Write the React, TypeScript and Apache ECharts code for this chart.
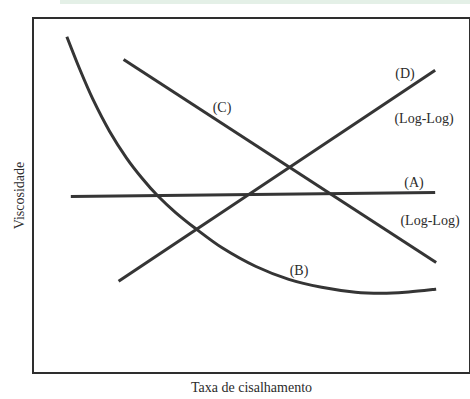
import React, { useEffect, useRef } from "react";
import * as echarts from "echarts";

// Values (arbitrary units, x: shear rate, y: viscosity)
const curveA: [number, number][] = [[38, 179], [404, 183]];
const curveB: [number, number][] = [
  [34, 341], [47, 308], [60, 278], [77, 245], [94, 218], [110, 197], [125, 180],
  [143, 163], [164, 146], [190, 127], [224, 108], [257, 95], [290, 87],
  [324, 82], [350, 81], [374, 82], [405, 85],
];
const curveC: [number, number][] = [[91, 318], [405, 112]];
const curveD: [number, number][] = [[86, 93], [404, 307]];

const xName = "Taxa de cisalhamento";
const yName = "Viscosidade";

const labels: { text: string; x: number; y: number }[] = [
  { text: "(C)", x: 222, y: 107 },
  { text: "(D)", x: 405, y: 73 },
  { text: "(Log-Log)", x: 424, y: 118 },
  { text: "(A)", x: 414, y: 182 },
  { text: "(Log-Log)", x: 430, y: 220 },
  { text: "(B)", x: 299, y: 270 },
];

const FONT = "Liberation Serif, Times New Roman, serif";
const INK = "#353535";

export default function App() {
  const ref = useRef<HTMLDivElement>(null);
  useEffect(() => {
    if (!ref.current) return;
    const chart = echarts.init(ref.current, null, { renderer: "svg" });
    const mkSeries = (name: string, data: [number, number][], smooth: number | boolean = false) => ({
      name,
      type: "line",
      data,
      smooth,
      showSymbol: false,
      symbol: "none",
      lineStyle: { color: INK, width: 3 },
      silent: true,
    });
    chart.setOption({
      animation: false,
      backgroundColor: "#ffffff",
      grid: {
        left: 33,
        right: -2,
        top: 18,
        bottom: 21,
        show: true,
        borderColor: "#2e2e2e",
        borderWidth: 2,
        backgroundColor: "transparent",
      },
      xAxis: {
        type: "value",
        min: 0,
        max: 439,
        axisLine: { show: false },
        axisTick: { show: false },
        axisLabel: { show: false },
        splitLine: { show: false },
        name: xName,
        nameLocation: "middle",
        nameGap: 7,
        nameTextStyle: { fontFamily: FONT, fontSize: 14, color: "#2b2b2b", verticalAlign: "top" },
      },
      yAxis: {
        type: "value",
        min: 0,
        max: 360,
        axisLine: { show: false },
        axisTick: { show: false },
        axisLabel: { show: false },
        splitLine: { show: false },
        name: yName,
        nameLocation: "middle",
        nameGap: 7,
        nameTextStyle: { fontFamily: FONT, fontSize: 14, color: "#2b2b2b" },
      },
      series: [
        mkSeries("A", curveA),
        mkSeries("B", curveB, 0.3),
        mkSeries("C", curveC),
        mkSeries("D", curveD),
      ],
      graphic: [
        {
          type: "rect",
          shape: { x: 60, y: 0, width: 410, height: 4 },
          style: { fill: "#e4f0e7" },
          silent: true,
        },
        ...labels.map((l) => ({
          type: "text",
          x: l.x,
          y: l.y,
          silent: true,
          style: {
            text: l.text,
            font: `14px ${FONT}`,
            fill: "#2b2b2b",
            align: "center",
            verticalAlign: "middle",
          },
        })),
      ],
    });
    return () => chart.dispose();
  }, []);
  return (
    <div
      ref={ref}
      style={{ position: "fixed", left: 0, top: 0, width: 470, height: 399, background: "#fff" }}
    />
  );
}
